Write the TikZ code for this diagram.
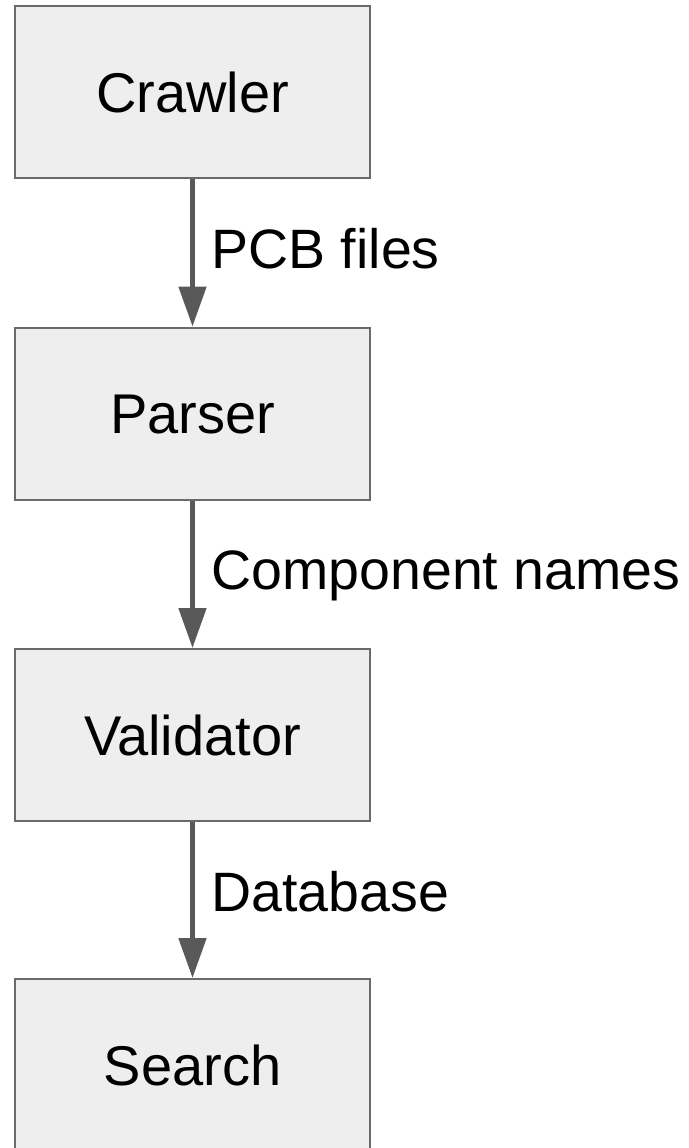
\documentclass[tikz,border=0pt]{standalone}
\usepackage{fontspec}
\setmainfont{Liberation Sans}
\usetikzlibrary{arrows.meta}
\definecolor{boxfill}{HTML}{EEEEEE}
\definecolor{boxline}{HTML}{6A6A6A}
\definecolor{flowline}{HTML}{595959}
\begin{document}
\begin{tikzpicture}[x=1pt,y=-1pt,
  stage/.style={draw=boxline, line width=2pt, fill=boxfill,
    minimum width=355pt, minimum height=172pt, inner sep=0pt,
    text height=40pt, text depth=0pt, font=\fontsize{56}{60}\selectfont},
  flow/.style={draw=flowline, line width=5pt,
    -{Triangle[width=27pt,length=40pt]}},
  lbl/.style={anchor=base west, inner sep=0pt, xshift=16.5pt, yshift=-89pt,
    font=\fontsize{55.5}{60}\selectfont}]
  \useasboundingbox (0,0) rectangle (688,1148);
  \clip (0,0) rectangle (688,1148);
  \node[stage] (crawler)   at (192.5,92)   {Crawler};
  \node[stage] (parser)    at (192.5,413.5) {Parser};
  \node[stage] (validator) at (192.5,735)  {Validator};
  \node[stage] (search)    at (192.5,1065) {Search};
  \draw[flow] (crawler.south) -- (parser.north)
    node[at start, lbl] {PCB files};
  \draw[flow] (parser.south) -- (validator.north)
    node[at start, lbl] {Component names};
  \draw[flow] (validator.south) -- (search.north)
    node[at start, lbl] {Database};
\end{tikzpicture}
\end{document}
